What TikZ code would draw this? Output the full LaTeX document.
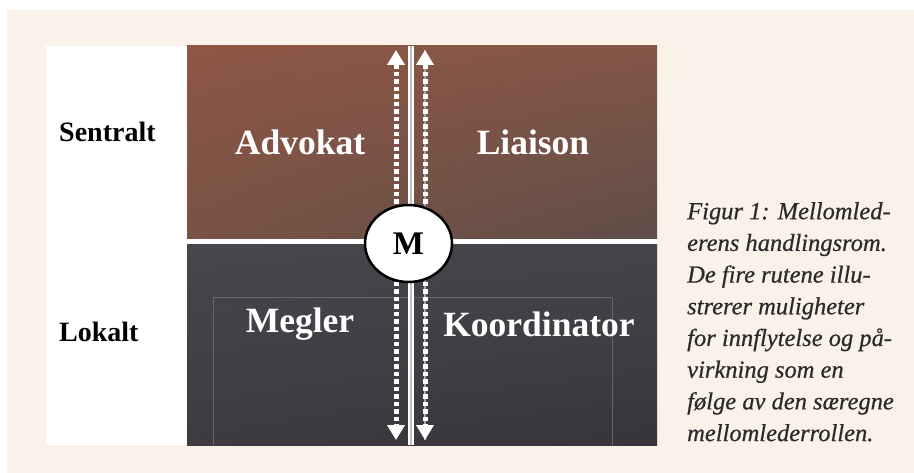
\documentclass[tikz,border=0pt]{standalone}
\usepackage{fontspec}
\setmainfont{Liberation Serif}
\newfontfamily\capfont[FakeBold=0.6]{Liberation Serif}
\usepackage{xcolor}
\usetikzlibrary{positioning,arrows.meta,shapes.geometric,shadings}

\definecolor{cream}{HTML}{FAF2E9}
\definecolor{brownA}{HTML}{8E5645}
\definecolor{brownB}{HTML}{835647}
\definecolor{brownC}{HTML}{795345}
\definecolor{brownD}{HTML}{5F4D48}
\definecolor{slateA}{HTML}{48464D}
\definecolor{slateB}{HTML}{46444B}
\definecolor{slateC}{HTML}{3E3B40}
\definecolor{slateD}{HTML}{38353A}
\definecolor{frame}{HTML}{66636A}
\definecolor{captext}{HTML}{2B2A2A}

\begin{document}
\begin{tikzpicture}[
        x=1pt, y=-1pt,
        quad/.style={font=\fontsize{35.5}{40}\selectfont\bfseries, text=white, inner sep=0pt, anchor=base},
        level/.style={font=\fontsize{28}{32}\selectfont\bfseries, inner sep=0pt, anchor=base west},
        mid/.style={ellipse, draw, line width=2.5pt, fill=white, minimum width=87pt, minimum height=77pt, inner sep=0pt, font=\fontsize{33}{36}\selectfont\bfseries},
        flow/.style={white, line width=5pt, dash pattern=on 4.5pt off 3pt, {Triangle[width=17pt,length=15pt]}-{Triangle[width=17pt,length=15pt]}},
    ]
    \useasboundingbox (0,0) rectangle (914,473);
    \fill[cream] (7,10) rectangle (914,473);
    \fill[white] (46,46) rectangle (187,445);

    % the four fields
    \shade[upper left=brownA, upper right=brownB, lower left=brownC, lower right=brownD] (187,46) rectangle (657,239);
    \shade[upper left=slateA, upper right=slateB, lower left=slateC, lower right=slateD] (187,244) rectangle (657,445);
    \draw[white, line width=5pt] (187,241.5) -- (657,241.5);
    \draw[frame, line width=0.8pt] (213,445) |- (612,297) -- (612,445);
    \draw[white, line width=6pt] (411,46) -- (411,445);
    \draw[white!75!black, line width=1.5pt] (411,46) -- (411,445);

    \node[level] (sentralt) at (59,142) {Sentralt};
    \node[level] (lokalt)   at (59,342) {Lokalt};
    \node[quad] (advokat)     at (300,155) {Advokat};
    \node[quad] (liaison)     at (533,155) {Liaison};
    \node[quad] (megler)      at (300,333) {Megler};
    \node[quad] (koordinator) at (539,337) {Koordinator};

    \coordinate (upL) at (396,50);
    \coordinate (dnL) at (396,440);
    \coordinate (upR) at (425,50);
    \coordinate (dnR) at (425,440);
    \draw[white!65!black, line width=1.5pt] (upR) -- (dnR);
    \draw[flow] (upL) -- (dnL);
    \draw[flow] (upR) -- (dnR);

    \node[mid] (m) at (408.5,243.5) {M};

    \node[anchor=north west, align=left, inner sep=0pt, text=captext,
          font=\capfont\itshape\fontsize{24.5}{31.7}\selectfont] (caption) at (687,202)
        {Figur 1: Mellomled-\\erens handlingsrom.\\De fire rutene illu-\\strerer muligheter\\for innflytelse og på-\\virkning som en\\følge av den særegne\\mellomlederrollen.};
\end{tikzpicture}
\end{document}
